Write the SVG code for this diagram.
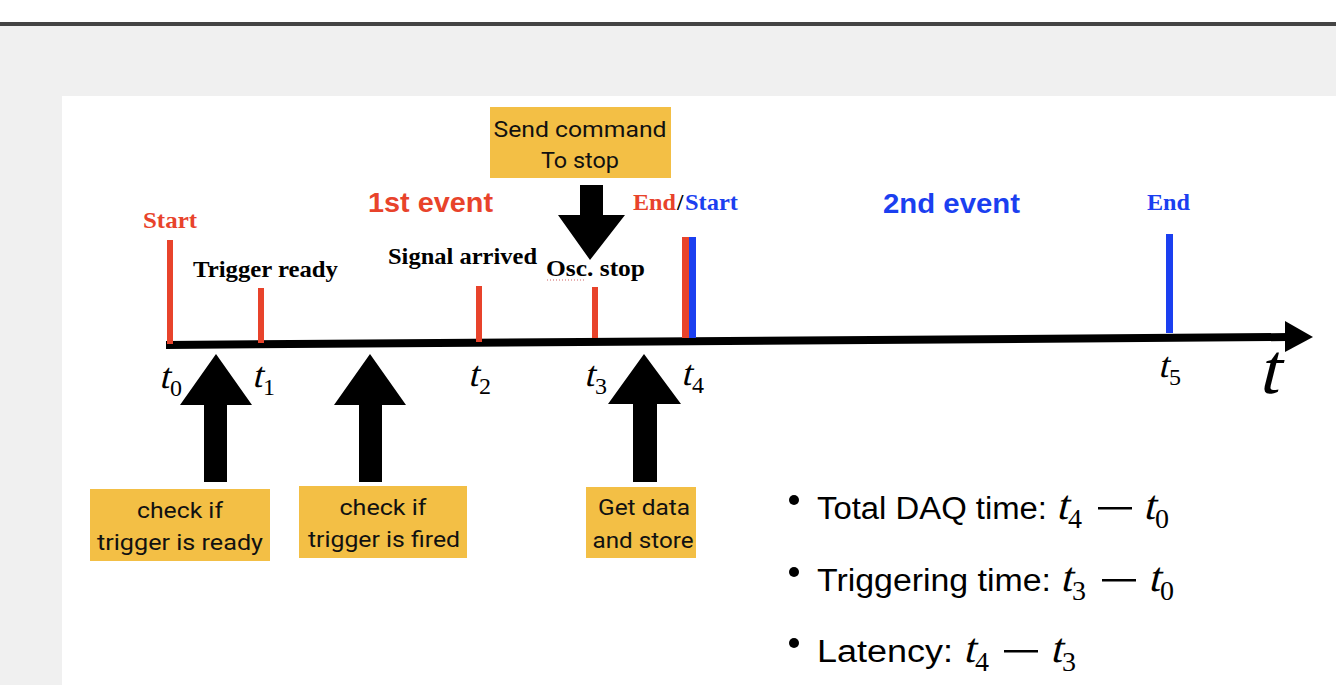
<svg xmlns="http://www.w3.org/2000/svg" width="1336" height="685" viewBox="0 0 1336 685">
  <style>
    .lbl{font-family:"Liberation Serif","DejaVu Serif",serif;font-weight:bold;font-size:23px}
    .red{fill:#e8432b}
    .blue{fill:#1b3ff0}
    .ev{font-family:"Liberation Sans",Arial,sans-serif;font-weight:bold;font-size:28px}
    .math{font-family:"Liberation Serif",serif;font-style:normal;fill:#000}
    .box{fill:#f3bf45}
    .bt{font-family:Roboto,"Liberation Sans",sans-serif;font-size:22px;fill:#111;text-anchor:middle}
    .bul{font-family:"Liberation Sans",Arial,sans-serif;font-size:31px;fill:#000}
    .ink{fill:#000}
  </style>
  <!-- background -->
  <rect x="0" y="0" width="1336" height="685" fill="#ffffff"/>
  <rect x="0" y="22" width="1336" height="663" fill="#f0f0f0"/>
  <rect x="0" y="22" width="1336" height="4" fill="#444444"/>
  <rect x="62" y="96" width="1274" height="589" fill="#ffffff"/>

  <!-- connectors: axis and arrows -->
  <g id="connectors">
    <line x1="166" y1="345" x2="1288" y2="337" stroke="#000" stroke-width="8"/>
    <polygon class="ink" points="1285,321 1313,337 1285,352"/>
    <polygon class="ink" points="216,354 252,405 227,405 227,482 204,482 204,405 180,405"/>
    <polygon class="ink" points="370,354 406,405 382,405 382,482 359,482 359,405 334,405"/>
    <polygon class="ink" points="644,354 681,404 657,404 657,482 633,482 633,404 608,404"/>
    <polygon class="ink" points="580,185 603,185 603,215 625,215 590,260 558,215 580,215"/>
  </g>

  <!-- ticks -->
  <g id="ticks">
    <rect x="167" y="240" width="6" height="104" class="red"/>
    <rect x="258" y="288" width="6" height="55" class="red"/>
    <rect x="476" y="286" width="6" height="56" class="red"/>
    <rect x="592" y="287" width="6" height="51" class="red"/>
    <rect x="682" y="237" width="7" height="101" class="red"/>
    <rect x="689" y="237" width="7" height="101" class="blue"/>
    <rect x="1166" y="234" width="7" height="99" class="blue"/>
  </g>

  <!-- labels above axis -->
  <g id="label-start"><text x="143" y="228" class="lbl red" font-size="21" textLength="54" lengthAdjust="spacingAndGlyphs">Start</text></g>
  <g id="label-trigger-ready"><text x="193" y="277" class="lbl" textLength="145" lengthAdjust="spacingAndGlyphs">Trigger ready</text></g>
  <g id="label-signal-arrived"><text x="388" y="264" class="lbl" textLength="149" lengthAdjust="spacingAndGlyphs">Signal arrived</text></g>
  <g id="label-osc-stop">
    <text x="546" y="276" class="lbl" textLength="99" lengthAdjust="spacingAndGlyphs">Osc. stop</text>
    <line x1="547" y1="280" x2="586" y2="280" stroke="#d06060" stroke-width="1" stroke-dasharray="1 2"/>
  </g>
  <g id="label-end-start">
    <text x="633" y="210" class="lbl red" font-size="22" textLength="43" lengthAdjust="spacingAndGlyphs">End</text>
    <text x="677" y="210" class="lbl" font-size="22" font-weight="normal">/</text>
    <text x="685" y="210" class="lbl blue" font-size="22" textLength="53" lengthAdjust="spacingAndGlyphs">Start</text>
  </g>
  <g id="label-end"><text x="1147" y="210" class="lbl blue" font-size="22" textLength="43" lengthAdjust="spacingAndGlyphs">End</text></g>
  <g id="label-1st-event"><text x="368" y="212" class="ev red" textLength="125" lengthAdjust="spacingAndGlyphs">1st event</text></g>
  <g id="label-2nd-event"><text x="883" y="213" class="ev blue" textLength="137" lengthAdjust="spacingAndGlyphs">2nd event</text></g>

  <!-- time labels (italic t by skew) -->
  <g id="time-labels">
    <g transform="translate(159,388)"><text x="0" y="0" class="math" font-size="36" transform="skewX(-14)">t</text><text x="11" y="8" class="math" font-size="24">0</text></g>
    <g transform="translate(252,387)"><text x="0" y="0" class="math" font-size="36" transform="skewX(-14)">t</text><text x="11" y="8" class="math" font-size="24">1</text></g>
    <g transform="translate(468,386)"><text x="0" y="0" class="math" font-size="36" transform="skewX(-14)">t</text><text x="11" y="8" class="math" font-size="24">2</text></g>
    <g transform="translate(584,386)"><text x="0" y="0" class="math" font-size="36" transform="skewX(-14)">t</text><text x="11" y="8" class="math" font-size="24">3</text></g>
    <g transform="translate(681,385)"><text x="0" y="0" class="math" font-size="36" transform="skewX(-14)">t</text><text x="11" y="8" class="math" font-size="24">4</text></g>
    <g transform="translate(1158,377)"><text x="0" y="0" class="math" font-size="36" transform="skewX(-14)">t</text><text x="11" y="8" class="math" font-size="24">5</text></g>
    <g transform="translate(1258,393)"><text x="0" y="0" class="math" font-size="72" transform="skewX(-14)">t</text></g>
  </g>

  <!-- yellow boxes -->
  <g id="box-send-command">
    <rect x="490" y="107" width="181" height="71" class="box"/>
    <text x="580" y="137" class="bt" textLength="173" lengthAdjust="spacingAndGlyphs">Send command</text>
    <text x="580" y="168" class="bt" textLength="78" lengthAdjust="spacingAndGlyphs">To stop</text>
  </g>
  <g id="box-check-ready">
    <rect x="90" y="489" width="180" height="72" class="box"/>
    <text x="180" y="518" class="bt" textLength="86" lengthAdjust="spacingAndGlyphs">check if</text>
    <text x="180" y="550" class="bt" textLength="166" lengthAdjust="spacingAndGlyphs">trigger is ready</text>
  </g>
  <g id="box-check-fired">
    <rect x="299" y="486" width="168" height="72" class="box"/>
    <text x="383" y="515" class="bt" textLength="87" lengthAdjust="spacingAndGlyphs">check if</text>
    <text x="384" y="547" class="bt" textLength="152" lengthAdjust="spacingAndGlyphs">trigger is fired</text>
  </g>
  <g id="box-get-data">
    <rect x="586" y="487" width="110" height="71" class="box"/>
    <text x="644" y="515" class="bt" textLength="92" lengthAdjust="spacingAndGlyphs">Get data</text>
    <text x="643" y="548" class="bt" textLength="101" lengthAdjust="spacingAndGlyphs">and store</text>
  </g>

  <!-- bullet list -->
  <g id="bullets">
    <circle cx="794" cy="500" r="5" class="ink"/>
    <text x="817" y="519" class="bul" textLength="230" lengthAdjust="spacingAndGlyphs">Total DAQ time:</text>
    <g transform="translate(1056,519)"><text x="0" y="0" class="math" font-size="42" transform="skewX(-14)">t</text><text x="12" y="9" class="math" font-size="28">4</text></g>
    <rect x="1098" y="507" width="34" height="2.5" class="ink"/>
    <g transform="translate(1143,519)"><text x="0" y="0" class="math" font-size="42" transform="skewX(-14)">t</text><text x="12" y="9" class="math" font-size="28">0</text></g>

    <circle cx="794" cy="572" r="5" class="ink"/>
    <text x="817" y="591" class="bul" textLength="234" lengthAdjust="spacingAndGlyphs">Triggering time:</text>
    <g transform="translate(1060,591)"><text x="0" y="0" class="math" font-size="42" transform="skewX(-14)">t</text><text x="12" y="9" class="math" font-size="28">3</text></g>
    <rect x="1102" y="579" width="34" height="2.5" class="ink"/>
    <g transform="translate(1148,591)"><text x="0" y="0" class="math" font-size="42" transform="skewX(-14)">t</text><text x="12" y="9" class="math" font-size="28">0</text></g>

    <circle cx="794" cy="643" r="5" class="ink"/>
    <text x="817" y="662" class="bul" textLength="136" lengthAdjust="spacingAndGlyphs">Latency:</text>
    <g transform="translate(963,662)"><text x="0" y="0" class="math" font-size="42" transform="skewX(-14)">t</text><text x="12" y="9" class="math" font-size="28">4</text></g>
    <rect x="1004" y="650" width="34" height="2.5" class="ink"/>
    <g transform="translate(1050,662)"><text x="0" y="0" class="math" font-size="42" transform="skewX(-14)">t</text><text x="12" y="9" class="math" font-size="28">3</text></g>
  </g>
</svg>
